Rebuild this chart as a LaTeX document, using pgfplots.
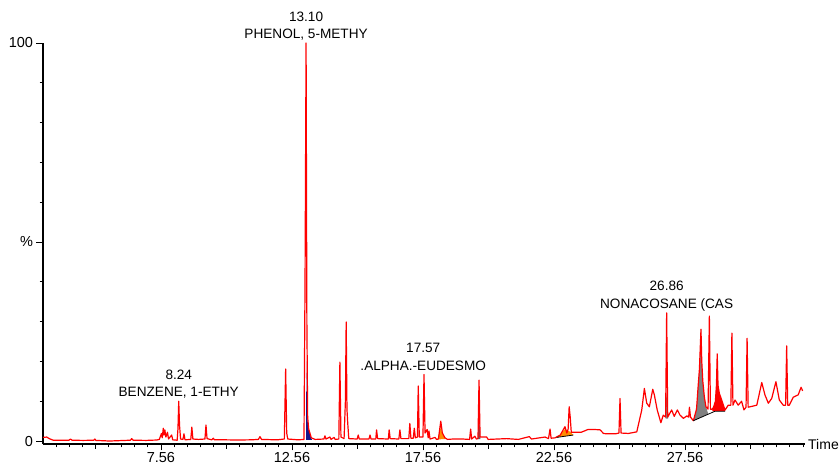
\documentclass[border=0pt]{standalone}
\usepackage{pgfplots}
\pgfplotsset{compat=1.18}
\usepackage{fontspec}
\setmainfont{Liberation Sans}
\definecolor{trace}{RGB}{255,0,0}
\definecolor{navyfill}{RGB}{20,20,140}
\definecolor{orangefill}{RGB}{255,140,0}
\definecolor{greyfill}{RGB}{128,128,128}
\definecolor{slatefill}{RGB}{90,100,110}
\newcommand{\annofont}{\fontsize{13.6}{16}\selectfont}
\newcommand{\anno}[4]{%
  \node[anchor=base,inner sep=0pt,font=\annofont,yshift=4.5pt] at (axis cs:#1,#2) {#4};
  \node[anchor=base,inner sep=0pt,font=\annofont,yshift=21.9pt] at (axis cs:#1,#2) {#3};}
\begin{document}
\begin{tikzpicture}[x=1pt,y=1pt]
\useasboundingbox (0,0) rectangle (840,465);
\begin{axis}[
  at={(43pt,21pt)}, anchor=south west,
  scale only axis, width=762pt, height=401pt,
  xmin=3.06, xmax=32.14, ymin=-0.75, ymax=100,
  clip=false,
  axis lines*=left,
  axis line style={line width=1.5pt, black},
  tick align=outside,
  major tick length=6.5pt, minor tick length=3.3pt,
  tick style={line width=0.8pt, black},
  xtick={7.56,12.56,17.56,22.56,27.56},
  xticklabels={7.56,12.56,17.56,22.56,27.56},
  xticklabel style={yshift=1.8pt},
  minor xtick={3.56,4.06,4.56,5.56,6.06,6.56,7.06,8.06,8.56,9.06,9.56,10.56,11.06,11.56,12.06,13.06,13.56,14.06,14.56,15.56,16.06,16.56,17.06,18.06,18.56,19.06,19.56,20.56,21.06,21.56,22.06,23.06,23.56,24.06,24.56,25.56,26.06,26.56,27.06,28.06,28.56,29.06,29.56,30.56,31.06,31.56,32.06},
  extra x ticks={5.06,10.06,15.06,20.06,25.06,30.06},
  extra x tick labels={},
  extra x tick style={major tick length=5pt},
  ytick={0,50,100},
  yticklabels={0,\%,100},
  minor ytick={10,20,30,40,60,70,80,90},
  /pgf/number format/assume math mode=true,
  tick label style={font=\fontsize{14.5}{16}\selectfont},
  xlabel={Time},
  xlabel style={at={(rel axis cs:1,0)}, anchor=west, inner sep=0pt, xshift=3pt, font=\fontsize{14}{16}\selectfont},
]
% filled integration areas
\addplot[fill=navyfill, draw=none] coordinates {(13.10,0.3) (13.11,20) (13.13,10) (13.16,5) (13.20,2.8) (13.30,0.7) (13.33,0.3)} -- cycle;
\addplot[fill=orangefill, draw=none] coordinates {(18.12,0.4) (18.20,2.5) (18.24,3.5) (18.30,1.8) (18.42,0.5)} -- cycle;
\addplot[fill=slatefill, draw=none] coordinates {(19.66,0.5) (19.69,8) (19.72,5) (19.75,0.5)} -- cycle;
\addplot[fill=orangefill, draw=none] coordinates {(22.66,0.9) (22.80,1.6) (22.98,3.0) (23.10,2.6) (23.20,2.2) (23.30,1.5)} -- cycle;
\addplot[fill=greyfill, draw=none] coordinates {(26.82,5.6) (26.85,12) (26.88,10) (26.92,5.6)} -- cycle;
\addplot[fill=greyfill, draw=none] coordinates {(27.88,5.1) (28.00,8) (28.07,14.5) (28.11,18) (28.14,23) (28.17,28.1) (28.20,20) (28.24,15) (28.30,11) (28.36,8.6) (28.45,6.75)} -- cycle;
\addplot[fill=trace, draw=none] coordinates {(28.60,7.5) (28.60,8) (28.65,8.5) (28.72,10) (28.76,14) (28.79,21.9) (28.82,14) (28.87,12) (28.96,10.3) (29.05,8.5) (29.09,7.8) (29.09,7.5)} -- cycle;
% chromatogram trace
\addplot[trace, line width=1.2pt, line join=round] coordinates {
(3.06,0.9) (3.20,1.0) (3.30,0.6) (3.45,0.2) (3.80,0.2) (4.05,0.2) (4.11,0.5) (4.17,0.2)
(4.60,0.15) (5.00,0.2) (5.04,0.5) (5.08,0.15) (5.60,0.0) (6.00,0.1) (6.40,0.2) (6.44,0.6) (6.50,0.2)
(7.00,0.15) (7.40,0.25) (7.50,0.4) (7.58,1.9) (7.61,0.8) (7.65,3.2) (7.68,1.5) (7.71,2.8) (7.75,1.0)
(7.81,2.2) (7.85,0.5) (7.97,1.5) (8.01,0.3) (8.18,0.2) (8.21,3) (8.24,10.0) (8.27,4) (8.31,0.5)
(8.40,0.4) (8.44,1.8) (8.48,0.3) (8.70,0.4) (8.74,3.5) (8.78,0.5) (9.00,0.4) (9.24,0.5) (9.28,4.0)
(9.32,0.6) (9.50,0.3) (9.56,0.7) (9.60,0.3) (10.00,0.3) (10.50,0.25) (11.00,0.3) (11.28,0.4) (11.34,1.1)
(11.40,0.4) (12.00,0.3) (12.27,0.5) (12.32,18.1) (12.36,2) (12.40,0.5) (12.80,0.3) (13.02,0.4)
(13.06,40) (13.10,100) (13.13,30) (13.16,6) (13.20,3) (13.30,0.8) (13.45,0.4) (13.78,0.5) (13.82,1.3)
(13.86,0.5) (14.01,1.0) (14.05,0.4) (14.17,0.9) (14.21,0.4) (14.35,0.5) (14.39,19.8) (14.43,1.0)
(14.55,0.6) (14.60,10) (14.63,29.9) (14.66,8) (14.69,4.4) (14.73,0.6) (15.05,0.5) (15.09,1.5)
(15.13,0.5) (15.50,0.5) (15.54,1.5) (15.58,0.5) (15.76,0.5) (15.79,2.8) (15.83,0.6) (16.24,0.5)
(16.27,2.8) (16.31,0.6) (16.64,0.5) (16.68,2.8) (16.72,0.6) (17.02,0.6) (17.06,4.4) (17.10,0.7)
(17.19,0.7) (17.23,3.2) (17.27,0.8) (17.35,1) (17.38,13.8) (17.42,1) (17.56,1) (17.60,16.7) (17.64,2)
(17.72,2.9) (17.76,0.8) (17.79,2.5) (17.83,0.5) (18.02,0.9) (18.08,0.4) (18.15,0.5) (18.24,5.0)
(18.30,2.0) (18.40,0.8) (18.50,0.4) (18.70,0.5) (19.08,0.5) (19.34,0.4) (19.38,3.0) (19.42,0.5)
(19.54,1.2) (19.60,0.5) (19.66,0.6) (19.70,15.3) (19.74,1.0) (19.99,1.0) (20.05,0.4) (20.75,0.6)
(21.20,0.4) (21.62,1.1) (21.70,0.5) (22.22,1.0) (22.35,0.6) (22.41,3.0) (22.45,0.7) (22.60,0.8)
(22.80,1.5) (22.98,3.6) (23.05,2.0) (23.10,3) (23.14,8.6) (23.18,6) (23.22,2.2) (23.40,2.2) (23.60,2.2)
(23.86,2.9) (24.10,2.9) (24.32,2.8) (24.45,1.9) (24.57,1.8) (24.90,1.8) (25.04,2.0) (25.08,10.7)
(25.12,2.0) (25.40,1.9) (25.72,2.3) (25.91,7.8) (26.01,13.2) (26.10,9.5) (26.20,8.6) (26.33,13.0)
(26.39,11.6) (26.50,7.8) (26.64,4.6) (26.73,6.5) (26.82,6) (26.86,32.2) (26.90,6) (27.05,7.8)
(27.15,6.2) (27.27,7.8) (27.37,6.5) (27.50,5.7) (27.63,6.3) (27.70,6) (27.73,8.5) (27.77,6) (27.88,5.1)
(28.00,8) (28.07,14.5) (28.11,18) (28.14,23) (28.17,28.1) (28.20,20) (28.24,15) (28.30,11) (28.36,8.6)
(28.44,8) (28.49,31.4) (28.53,8) (28.60,8) (28.65,8.5) (28.72,10) (28.76,14) (28.79,21.9) (28.82,14)
(28.87,12) (28.96,10.3) (29.05,8.5) (29.09,7.8) (29.21,9.0) (29.31,9) (29.35,27.1)
(29.39,9) (29.47,10.3) (29.59,9.0) (29.72,10) (29.81,7.8) (29.89,8.5) (29.93,25.8) (29.97,8.5)
(30.04,8.6) (30.30,9.0) (30.49,14.7) (30.61,11.6) (30.74,9.5) (30.87,10.7) (31.03,14.9) (31.16,10.3)
(31.31,9.0) (31.40,9) (31.44,23.9) (31.48,9) (31.54,9.0) (31.69,11.0) (31.88,11.6) (31.99,13.5) (32.05,12.6)
};
% integration baselines
\addplot[black, line width=0.8pt] coordinates {(27.88,5.1) (28.71,7.5) (29.09,7.5)};
\addplot[black, line width=0.8pt] coordinates {(22.66,0.9) (23.30,1.5)};
% peak annotations
\anno{8.24}{10.0}{8.24}{BENZENE, 1-ETHY}
\anno{13.10}{100}{13.10}{PHENOL, 5-METHY}
\anno{17.57}{16.7}{17.57}{.ALPHA.-EUDESMO}
\anno{26.86}{32.2}{26.86}{NONACOSANE (CAS}
\end{axis}
\end{tikzpicture}
\end{document}
